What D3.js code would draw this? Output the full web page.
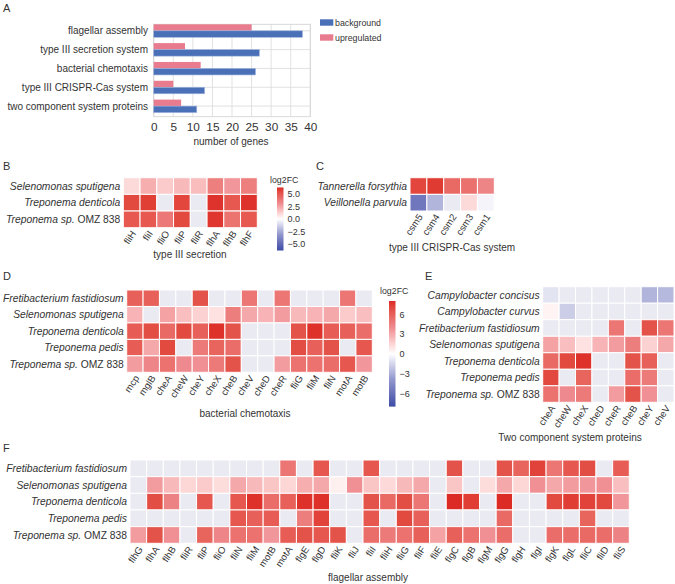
<!DOCTYPE html>
<html lang="en">
<head>
<meta charset="UTF-8">
<style>
  body { margin: 0; background: #fff; }
  svg { font-family: "Liberation Sans", Arial, sans-serif; }
  text { fill: #333; }
  .rowlab { font-size: 10.3px; font-style: italic; }
  .collab { font-size: 9.6px; }
  .axtitle { font-size: 10px; }
  .panel { font-size: 11px; }
</style>
</head>
<body>
<script src="https://d3js.org/d3.v7.min.js"></script>
<script>
// ---- panel A
const aCategories = ["flagellar assembly", "type III secretion system", "bacterial chemotaxis",
  "type III CRISPR-Cas system", "two component system proteins"];
const aBackground = [38, 27, 26, 13, 11];
const aUpregulated = [25, 8, 12, 5, 7];
const aTicks = [0, 5, 10, 15, 20, 25, 30, 35, 40];

// ---- panel B (type III secretion)
const bRows = ["Selenomonas sputigena", "Treponema denticola", "Treponema sp. OMZ 838"];
const bCols = ["fliH", "fliI", "fliO", "fliP", "fliR", "flhA", "flhB", "flhF"];
const bVals = [
  [1.0, 2.2, 1.4, 1.9, 1.8, 3.6, 2.8, 3.6],
  [5.5, 5.8, null, 5.6, null, 6.1, 5.0, 6.1],
  [5.0, 5.0, 3.8, 5.5, null, 6.0, 4.0, 5.0]
];
const bTicks = [5, 2.5, 0, -2.5, -5];

// ---- panel C (CRISPR)
const cRows = ["Tannerella forsythia", "Veillonella parvula"];
const cCols = ["csm5", "csm4", "csm2", "csm3", "csm1"];
const cVals = [
  [5.6, 5.9, 4.4, 4.1, 3.4],
  [-4.4, -2.2, null, 1.0, -0.3]
];

// ---- panel D (chemotaxis)
const dRows = ["Fretibacterium fastidiosum", "Selenomonas sputigena", "Treponema denticola",
  "Treponema pedis", "Treponema sp. OMZ 838"];
const dCols = ["mcp", "mglB", "cheA", "cheW", "cheY", "cheX", "cheB", "cheV", "cheD", "cheR",
  "fliG", "fliM", "fliN", "motA", "motB"];
const dVals = [
  [6.0, 6.0, null, null, 6.6, null, null, 5.0, null, 5.0, null, null, null, 5.0, null],
  [2.6, null, 3.2, 2.2, 1.6, 1.0, 4.6, 3.0, 2.6, 3.4, 2.4, 2.6, 3.0, 1.8, 2.2],
  [6.2, 6.8, 5.6, 7.0, 6.0, 7.8, 6.6, null, null, null, 6.6, 7.8, 6.2, 6.0, 5.4],
  [6.2, 3.0, 7.0, null, 4.8, 5.8, 5.4, null, null, null, 6.8, 6.0, 6.6, null, 6.4],
  [3.4, 4.2, 5.2, 4.0, 3.8, 4.8, 6.6, null, null, 3.4, 5.2, 5.2, 5.4, 6.4, 3.6]
];
const dTicks = [6, 3, 0, -3, -6];

// ---- panel E (two component system)
const eRows = ["Campylobacter concisus", "Campylobacter curvus", "Fretibacterium fastidiosum",
  "Selenomonas sputigena", "Treponema denticola", "Treponema pedis", "Treponema sp. OMZ 838"];
const eCols = ["cheA", "cheW", "cheX", "cheD", "cheR", "cheB", "cheY", "cheV"];
const eVals = [
  [-1.0, null, null, null, null, null, -2.8, -2.6],
  [0.4, -1.8, null, null, null, null, null, null],
  [null, null, null, null, 5.0, null, 6.6, 5.0],
  [3.2, 2.2, 1.0, 2.6, 3.4, 4.6, 1.6, 3.0],
  [5.6, 7.0, 7.8, null, null, 6.6, 6.0, null],
  [7.0, null, 5.8, null, null, 5.4, 4.8, null],
  [5.2, 4.0, 4.8, null, 3.4, 6.6, 3.8, null]
];

// ---- panel F (flagellar assembly)
const fRows = dRows;
const fCols = ["flhG", "flhA", "flhB", "fliR", "fliP", "fliO", "fliN", "fliM", "motB", "motA",
  "flgE", "flgD", "fliK", "fliJ", "fliI", "fliH", "fliG", "fliF", "fliE", "flgC", "flgB", "flgM",
  "flgG", "flgH", "flgI", "flgK", "flgL", "fliC", "fliD", "fliS"];
const fVals = [
  [null, null, null, null, null, null, null, null, null, 5.0, null, 6.4, null, null, 6.4, null, null, null, null, 6.6, null, null, 6.6, 5.8, 7.2, 5.0, 6.4, 6.8, null, 6.2],
  [null, 3.4, 2.4, 1.4, 1.8, 1.2, 3.0, 2.4, 2.0, 1.4, 2.8, 3.0, 0.5, 3.8, 2.0, 1.3, 2.4, 3.0, null, 2.0, null, 1.2, 3.0, 1.4, 3.8, 3.0, 3.4, 3.6, 3.8, 2.2],
  [null, 6.8, 4.4, null, 6.4, null, 6.4, 7.8, 5.4, 6.0, 7.8, 7.8, null, null, 6.6, 5.6, 6.8, 5.0, null, 8.0, 7.4, null, 8.0, null, null, 7.0, 7.4, 7.2, 7.0, 3.6],
  [null, null, null, null, null, null, 6.4, 6.0, 6.2, null, 4.6, 7.2, null, null, 6.4, null, 7.0, 6.0, null, null, null, null, 5.6, null, null, null, null, 5.8, null, null],
  [3.4, 6.6, 3.8, null, 5.8, 4.2, 5.2, 5.2, 3.6, 6.2, 6.6, 6.4, 6.6, null, 5.4, 4.8, 5.2, 6.0, 3.2, 6.0, 5.2, 3.8, 5.4, null, null, 5.4, 5.4, 5.6, 5.4, 4.4]
];

const width = 675, height = 584;
const svg = d3.select("body").append("svg")
  .attr("width", width)
  .attr("height", height);

const nanColor = "#eaeaf2";

function cmap(vmax) {
  return d3.scaleLinear()
    .domain([-vmax, -vmax / 2, 0, vmax / 2, vmax])
    .range(["#3b4ca5", "#8f95cc", "#ffffff", "#ee8a8f", "#dc2a25"])
    .interpolate(d3.interpolateLab)
    .clamp(true);
}

function panelLabel(txt, x, y) {
  svg.append("text").attr("class", "panel").attr("x", x).attr("y", y).text(txt);
}

// species names: italic, but strain codes upright
function speciesLabel(sel, name) {
  const m = name.match(/^(.* sp\.)\s(.*)$/);
  if (m) {
    sel.append("tspan").text(m[1] + " ");
    sel.append("tspan").style("font-style", "normal").text(m[2]);
  } else {
    sel.text(name);
  }
}

// ================= A: bar chart
(function () {
  const x = d3.scaleLinear().domain([0, 40]).range([153.7, 310.3]);
  const y = d3.scalePoint().domain(aCategories).range([30.8, 106.1]);
  const top = 24.3, bottom = 116.7, barH = 6.5;
  const g = svg.append("g");

  g.selectAll(".vgrid").data(aTicks).join("line")
    .attr("x1", d => x(d)).attr("x2", d => x(d))
    .attr("y1", top).attr("y2", bottom)
    .attr("stroke", "#dedede").attr("stroke-width", 0.9);
  g.selectAll(".hgrid").data(aCategories).join("line")
    .attr("x1", x(0)).attr("x2", x(40))
    .attr("y1", d => y(d)).attr("y2", d => y(d))
    .attr("stroke", "#dedede").attr("stroke-width", 0.9);
  g.append("rect")
    .attr("x", x(0)).attr("y", top)
    .attr("width", x(40) - x(0)).attr("height", bottom - top)
    .attr("fill", "none").attr("stroke", "#d4d4d4").attr("stroke-width", 0.9);

  g.selectAll(".up").data(aCategories).join("rect")
    .attr("x", x(0)).attr("y", d => y(d) - barH)
    .attr("width", (d, i) => x(aUpregulated[i]) - x(0)).attr("height", barH)
    .attr("fill", "#e87c8e");
  g.selectAll(".bg").data(aCategories).join("rect")
    .attr("x", x(0)).attr("y", d => y(d))
    .attr("width", (d, i) => x(aBackground[i]) - x(0)).attr("height", barH)
    .attr("fill", "#4a70b8").attr("stroke", "#9fb4dc").attr("stroke-width", 0.6);

  g.selectAll(".catlab").data(aCategories).join("text")
    .attr("x", 148).attr("y", d => y(d)).attr("dy", "0.35em")
    .attr("text-anchor", "end").style("font-size", "10px")
    .text(d => d);

  const ax = g.append("g").attr("transform", `translate(0,${bottom})`)
    .call(d3.axisBottom(x).tickValues(aTicks).tickSize(0).tickPadding(6));
  ax.select(".domain").remove();
  ax.selectAll("text").style("font-size", "11.8px").attr("fill", "#333")
    .style("font-family", "'Liberation Sans', Arial, sans-serif");
  g.append("text").attr("class", "axtitle").attr("x", 231).attr("y", 144.5)
    .attr("text-anchor", "middle").text("number of genes");

  // legend
  const leg = [["background", "#4a70b8"], ["upregulated", "#e87c8e"]];
  leg.forEach((l, i) => {
    g.append("rect").attr("x", 320).attr("y", 19.3 + i * 15).attr("width", 13.3).attr("height", 6.4)
      .attr("fill", l[1]);
    g.append("text").attr("x", 335).attr("y", 22.6 + i * 15).attr("dy", "0.35em")
      .style("font-size", "8.8px").text(l[0]);
  });
  panelLabel("A", 3, 12);
})();

// ================= heatmaps
function heatmap(cfg) {
  const x = d3.scaleBand().domain(cfg.cols).range(cfg.xr);
  const y = d3.scaleBand().domain(cfg.rows).range(cfg.yr);
  const color = cmap(cfg.vmax);
  const g = svg.append("g");
  const cells = [];
  cfg.vals.forEach((row, i) => row.forEach((v, j) => cells.push({ r: cfg.rows[i], c: cfg.cols[j], v })));

  g.selectAll("rect").data(cells).join("rect")
    .attr("x", d => x(d.c)).attr("y", d => y(d.r))
    .attr("width", x.bandwidth()).attr("height", y.bandwidth())
    .attr("fill", d => d.v === null ? nanColor : color(d.v))
    .attr("stroke", "#fff").attr("stroke-width", 1);

  g.selectAll(".rowlab").data(cfg.rows).join("text")
    .attr("class", "rowlab")
    .attr("x", cfg.xr[0] - 3).attr("y", d => y(d) + y.bandwidth() / 2).attr("dy", "0.35em")
    .attr("text-anchor", "end")
    .each(function (d) { speciesLabel(d3.select(this), d); });

  const yb = cfg.yr[1];
  g.selectAll(".collab").data(cfg.cols).join("text")
    .attr("class", "collab")
    .attr("text-anchor", "end")
    .attr("transform", d => `translate(${x(d) + x.bandwidth() / 2 + 2},${yb + 4}) rotate(-56)`)
    .attr("dy", "0.35em")
    .text(d => d);

  g.append("text").attr("class", "axtitle")
    .attr("x", cfg.title[1]).attr("y", cfg.title[2])
    .attr("text-anchor", "middle").text(cfg.title[0]);
}

function colorbar(cfg) {
  const color = cmap(cfg.vmax);
  const y = d3.scaleLinear().domain([cfg.vmax, -cfg.vmax]).range(cfg.yr);
  const id = "grad" + cfg.id;
  const grad = svg.append("defs").append("linearGradient").attr("id", id)
    .attr("x1", 0).attr("x2", 0).attr("y1", 0).attr("y2", 1);
  d3.range(0, 1.0001, 0.05).forEach(t => {
    grad.append("stop").attr("offset", t).attr("stop-color", color(cfg.vmax - t * 2 * cfg.vmax));
  });
  svg.append("rect").attr("x", cfg.x).attr("y", cfg.yr[0])
    .attr("width", 6.5).attr("height", cfg.yr[1] - cfg.yr[0])
    .attr("fill", `url(#${id})`);
  const ax = svg.append("g").attr("transform", `translate(${cfg.x + 6.5},0)`)
    .call(d3.axisRight(y).tickValues(cfg.ticks).tickSize(0).tickPadding(4).tickFormat(d3.format(cfg.fmt)));
  ax.select(".domain").remove();
  ax.selectAll("text").style("font-size", "9px").attr("fill", "#333")
    .style("font-family", "'Liberation Sans', Arial, sans-serif");
  svg.append("text").attr("x", cfg.titleXY[0]).attr("y", cfg.titleXY[1])
    .style("font-size", "8.8px").text("log2FC");
}

heatmap({ rows: bRows, cols: bCols, vals: bVals, vmax: 6.3,
  xr: [123.3, 257.3], yr: [177.7, 227.7], title: ["type III secretion", 190, 258] });
colorbar({ id: "b", vmax: 6.3, x: 277, yr: [187.5, 250.5], ticks: bTicks, fmt: ".1f", titleXY: [270, 183] });
panelLabel("B", 3, 170);

heatmap({ rows: cRows, cols: cCols, vals: cVals, vmax: 6.3,
  xr: [410, 494.3], yr: [177.7, 211], title: ["type III CRISPR-Cas system", 452, 251] });
panelLabel("C", 316, 170);

heatmap({ rows: dRows, cols: dCols, vals: dVals, vmax: 8,
  xr: [126.7, 372.3], yr: [290, 372.3], title: ["bacterial chemotaxis", 245, 417] });
colorbar({ id: "d", vmax: 8, x: 389, yr: [301, 406.6], ticks: dTicks, fmt: "d", titleXY: [380, 294] });
panelLabel("D", 3, 280);

heatmap({ rows: eRows, cols: eCols, vals: eVals, vmax: 8,
  xr: [542.7, 674], yr: [286.7, 402.3], title: ["Two component system proteins", 570, 441] });
panelLabel("E", 425, 280);

heatmap({ rows: fRows, cols: fCols, vals: fVals, vmax: 8,
  xr: [130, 629.3], yr: [460, 543.3], title: ["flagellar assembly", 368, 581] });
panelLabel("F", 3, 452);
</script>
</body>
</html>
